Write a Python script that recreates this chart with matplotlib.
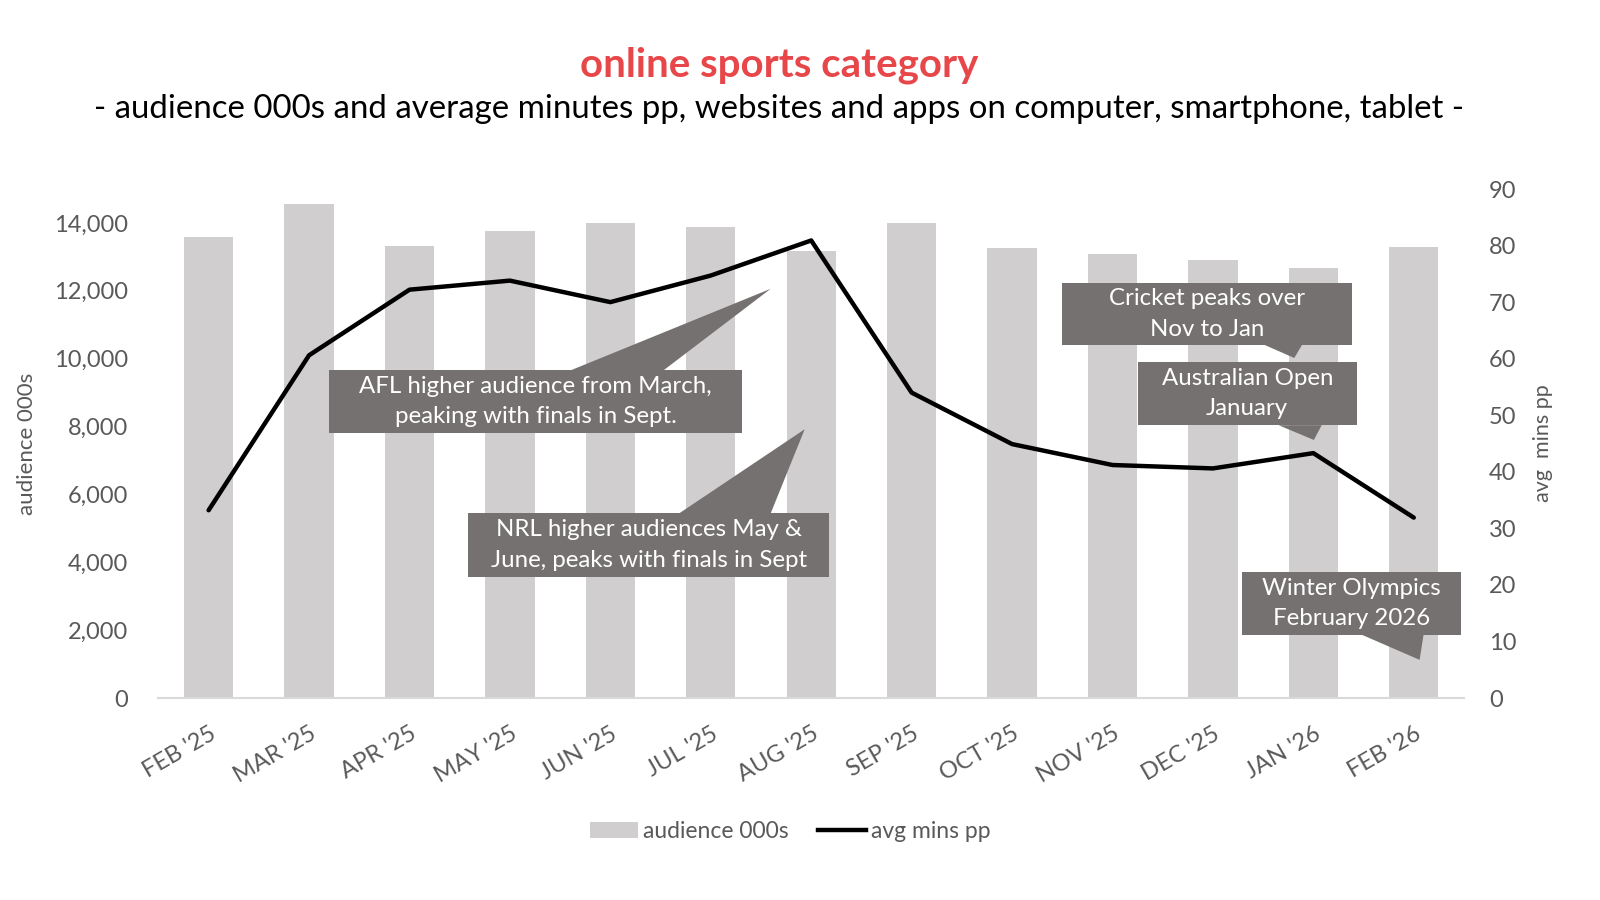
import matplotlib
matplotlib.use("Agg")
import matplotlib.pyplot as plt
from matplotlib.patches import Rectangle, Polygon
from matplotlib.lines import Line2D
from matplotlib.patches import Patch

plt.rcParams['font.family'] = ['Lato', 'DejaVu Sans']

# data
months = ["FEB '25", "MAR '25", "APR '25", "MAY '25", "JUN '25", "JUL '25", "AUG '25",
          "SEP '25", "OCT '25", "NOV '25", "DEC '25", "JAN '26", "FEB '26"]
audience = [13600, 14550, 13320, 13770, 14000, 13880, 13170,
            14000, 13250, 13080, 12900, 12660, 13290]
avg_mins = [33.2, 60.6, 72.2, 73.8, 70.0, 74.7, 80.9,
            54.0, 44.9, 41.2, 40.6, 43.3, 31.9]

# callouts: text, box (x0, x1, y_bottom, y_top), pointer (base_x0, base_x1, base_y, tip_x, tip_y) in axes fraction
callouts = [
    ("AFL higher audience from March,\npeaking with finals in Sept.",
     (0.131, 0.447, 0.521, 0.644), (0.316, 0.387, 0.644, 0.469, 0.804)),
    ("NRL higher audiences May &\nJune, peaks with finals in Sept",
     (0.237, 0.514, 0.238, 0.363), (0.399, 0.469, 0.363, 0.495, 0.528)),
    ("Cricket peaks over\nNov to Jan",
     (0.692, 0.914, 0.694, 0.815), (0.847, 0.876, 0.694, 0.870, 0.668)),
    ("Australian Open\nJanuary",
     (0.750, 0.918, 0.536, 0.660), (0.858, 0.891, 0.536, 0.885, 0.507)),
    ("Winter Olympics\nFebruary 2026",
     (0.830, 0.998, 0.124, 0.248), (0.922, 0.969, 0.124, 0.966, 0.075)),
]

bar_col = '#D0CECE'
box_col = '#767171'
tick_col = '#595959'

fig = plt.figure(figsize=(16, 9), dpi=100)
ax = fig.add_axes([0.099, 0.2244, 0.816, 0.5656])
ax2 = ax.twinx()

x = range(len(months))
ax.bar(x, audience, width=0.49, color=bar_col, zorder=1)
ax2.plot(x, avg_mins, color='black', linewidth=3.2, solid_capstyle='round', zorder=3)

ax.set_xlim(-0.5, 12.5)
ax.set_ylim(0, 15000)
ax.set_yticks(range(0, 14001, 2000))
ax.set_yticklabels([f"{v:,}" for v in range(0, 14001, 2000)])
ax2.set_ylim(0, 90)
ax2.set_yticks(range(0, 91, 10))

ax.set_xticks(list(x))
ax.set_xticklabels(months, rotation=30, ha='right', rotation_mode='anchor')

for a in (ax, ax2):
    for s in a.spines.values():
        s.set_visible(False)
    a.tick_params(length=0, labelsize=17, colors=tick_col)
ax.spines['bottom'].set_visible(True)
ax.spines['bottom'].set_color('#D9D9D9')
ax.spines['bottom'].set_linewidth(1.5)
ax.tick_params(axis='x', pad=18)
ax.tick_params(axis='y', pad=22)
ax2.tick_params(axis='y', pad=18)

ax.set_ylabel("audience 000s", fontsize=16, color=tick_col, labelpad=12)
ax2.set_ylabel("avg  mins pp", fontsize=15.5, color=tick_col, rotation=90, labelpad=12)

ax.set_zorder(1)
ax2.set_zorder(2)
ax2.patch.set_visible(False)

# callout boxes
for text, (bx0, bx1, by0, by1), (px0, px1, py, tx, ty) in callouts:
    ax2.add_patch(Rectangle((bx0, by0), bx1 - bx0, by1 - by0, transform=ax2.transAxes,
                            facecolor=box_col, edgecolor='none', clip_on=False, zorder=5))
    ax2.add_patch(Polygon([(px0, py), (px1, py), (tx, ty)], closed=True, transform=ax2.transAxes,
                          facecolor=box_col, edgecolor='none', clip_on=False, zorder=5))
    ax2.text((bx0 + bx1) / 2, (by0 + by1) / 2, text, transform=ax2.transAxes, ha='center',
             va='center', color='white', fontsize=17.3, linespacing=1.55, zorder=6)

fig.text(0.487, 0.928, "online sports category", ha='center', va='center',
         fontsize=29, fontweight='bold', color='#E8474A')
fig.text(0.487, 0.879, "- audience 000s and average minutes pp, websites and apps on computer, smartphone, tablet -",
         ha='center', va='center', fontsize=23.8, color='black')

handles = [Patch(facecolor=bar_col, edgecolor='none', label='audience 000s'),
           Line2D([0], [0], color='black', linewidth=3.2, label='avg mins pp')]
fig.legend(handles=handles, loc='center', bbox_to_anchor=(0.494, 0.0756), ncol=2, frameon=False,
           fontsize=16.5, labelcolor=tick_col, handlelength=2.1, handletextpad=0.2, columnspacing=1.3)

fig.savefig("out.png", dpi=100)
